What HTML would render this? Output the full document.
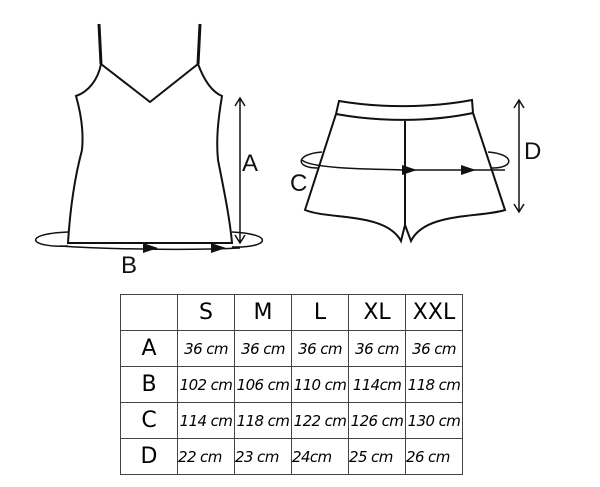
<!DOCTYPE html>
<html><head><style>
body{margin:0;background:#fff;width:600px;height:487px;overflow:hidden;position:relative;font-family:"Liberation Sans","DejaVu Sans",sans-serif}
svg{position:absolute;left:0;top:0}
table{position:absolute;left:120px;top:294px;border-collapse:collapse}
td{border:1.5px solid #444;width:56px;height:35px;padding:0;text-align:center;font-size:15px;font-style:italic;font-family:"DejaVu Sans",sans-serif;letter-spacing:-0.6px;white-space:nowrap}
td.h{font-style:normal;font-size:22px;font-family:"DejaVu Sans",sans-serif;letter-spacing:0}
</style></head><body>
<svg width="600" height="290" viewBox="0 0 600 290" fill="none" stroke="#111" stroke-width="2">
<path d="M68 232 C 20 234, 30 248, 68 246 M232 232 C 275 234, 270 248, 232 247" stroke-width="1.5"/>
<path d="M99 24 L101 64 M200 24 L198 64" stroke-width="3"/>
<path d="M101 64 L150 102 L198 64 C204 80 212 92 222 96 C218 120 216 140 218 160 C224 190 230 220 232 243 L68 243 C70 210 74 180 82 150 C84 130 80 110 76 96 C88 92 98 80 101 64 Z" fill="#fff"/>
<path d="M60 246 C 120 250, 200 250, 240 248" stroke-width="1.5"/>
<polygon points="143,243 158,248 143,253" fill="#111" stroke="none"/>
<polygon points="211,243 226,248 211,253" fill="#111" stroke="none"/>
<path d="M240 98 L240 243 M235 106 L240 98 L245 106 M235 235 L240 243 L245 235" stroke-width="1.5"/>
<text x="242" y="171" font-size="24" fill="#111" stroke="none" font-family="Liberation Sans">A</text>
<text x="121" y="273" font-size="24" fill="#111" stroke="none" font-family="Liberation Sans">B</text>
<path d="M322 152 C 295 154, 295 168, 318 168 M488 152 C 515 154, 515 168, 492 168" stroke-width="1.5"/>
<path d="M339 101 C 380 108, 430 108, 472 100 L473 113 L505 210 C 480 218, 425 212, 411 241 L405 225 L401 241 C 385 212, 330 220, 305 210 L336 114 Z" fill="#fff"/>
<path d="M336 114 C 380 122, 430 122, 473 113 M405 121 L405 225"/>
<path d="M302 160 C 310 168, 360 169, 405 170 L505 170" stroke-width="1.5"/>
<polygon points="402,165 417,170 402,175" fill="#111" stroke="none"/>
<polygon points="461,165 476,170 461,175" fill="#111" stroke="none"/>
<path d="M519 100 L519 212 M514 108 L519 100 L524 108 M514 204 L519 212 L524 204" stroke-width="1.5"/>
<text x="524" y="159" font-size="24" fill="#111" stroke="none" font-family="Liberation Sans">D</text>
<text x="290" y="191" font-size="24" fill="#111" stroke="none" font-family="Liberation Sans">C</text>
</svg>
<table>
<tr><td class="h"></td><td class="h">S</td><td class="h">M</td><td class="h">L</td><td class="h">XL</td><td class="h">XXL</td></tr>
<tr><td class="h">A</td><td>36 cm</td><td>36 cm</td><td>36 cm</td><td>36 cm</td><td>36 cm</td></tr>
<tr><td class="h">B</td><td>102 cm</td><td>106 cm</td><td>110 cm</td><td>114cm</td><td>118 cm</td></tr>
<tr><td class="h">C</td><td>114 cm</td><td>118 cm</td><td>122 cm</td><td>126 cm</td><td>130 cm</td></tr>
<tr><td class="h">D</td><td style="text-align:left">22 cm</td><td style="text-align:left">23 cm</td><td style="text-align:left">24cm</td><td style="text-align:left">25 cm</td><td style="text-align:left">26 cm</td></tr>
</table>
</body></html>
